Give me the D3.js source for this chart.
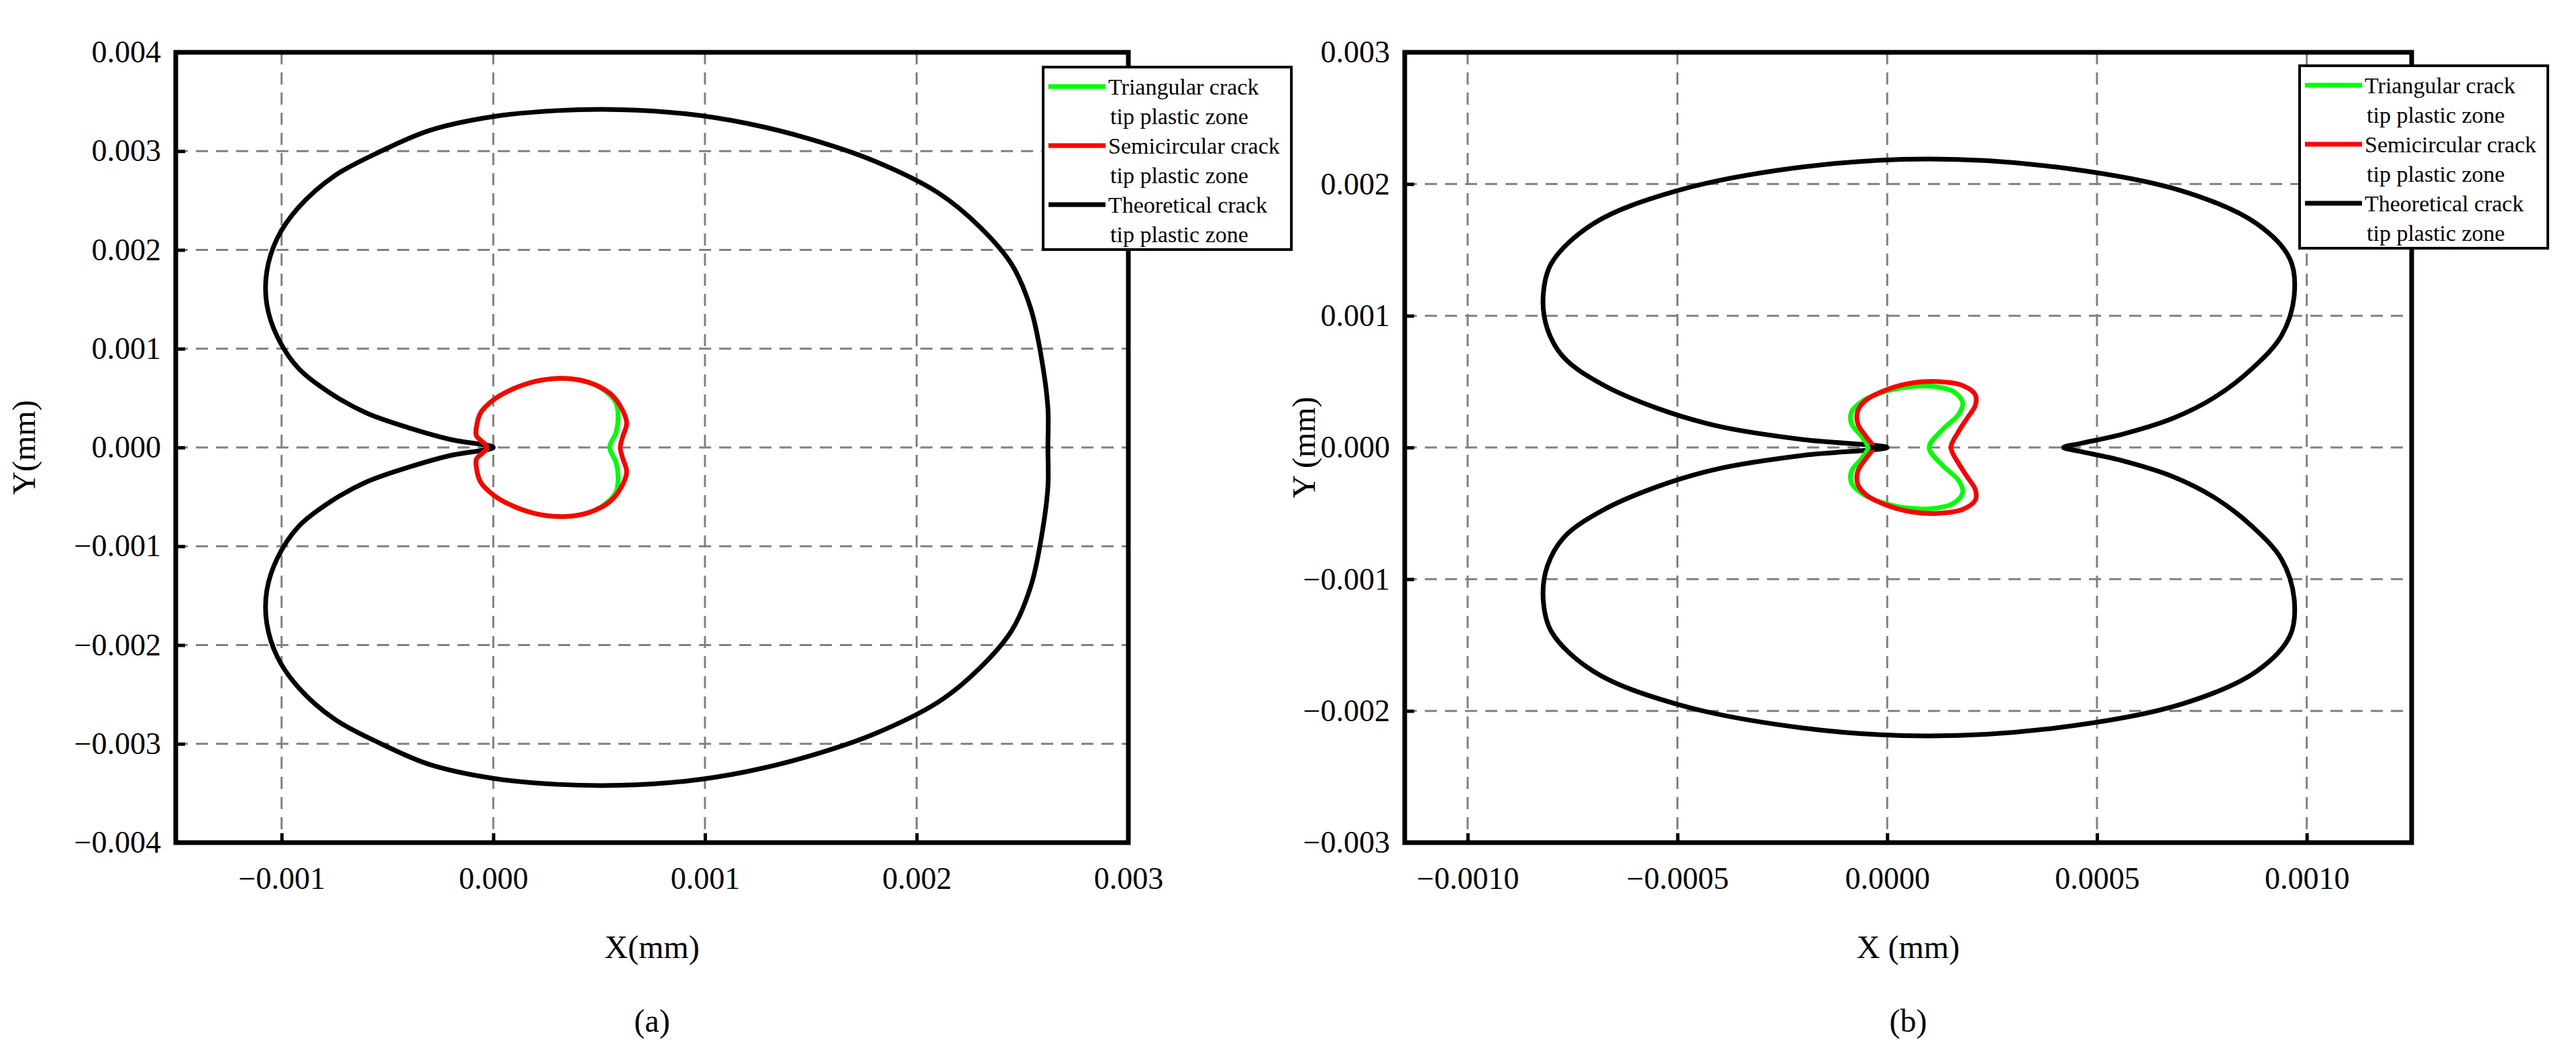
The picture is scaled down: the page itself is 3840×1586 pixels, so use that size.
<!DOCTYPE html>
<html><head><meta charset="utf-8">
<script src="https://cdn.jsdelivr.net/npm/d3@7"></script>
<style>body{margin:0;background:#fff}text{font-family:"Liberation Serif","Times New Roman",serif}</style>
</head><body><svg id="c" width="3840" height="1586"></svg>
<script>
// Upper halves (y >= 0); the zones are symmetric about the crack line
const aTheory = [[0,0],[-0.0002,0.00008],[-0.0004,0.0002],[-0.0006,0.00035],[-0.00077,0.00055],[-0.00092,0.0008],[-0.00102,0.00112],[-0.00107,0.00145],[-0.00107,0.00178],[-0.00102,0.00212],[-0.00092,0.00243],[-0.00075,0.00275],[-0.00053,0.003],[-0.0003,0.00321],[0,0.00335],[0.0003,0.00341],[0.0006,0.00342],[0.0009,0.00338],[0.0012,0.00328],[0.0015,0.00312],[0.0018,0.0029],[0.0021,0.00258],[0.0023,0.00223],[0.00245,0.00185],[0.00254,0.0014],[0.00259,0.0009],[0.00262,0.0004],[0.00262,0]];
const aSemi = [[-0.00003,0],[-0.00008,0.00012],[-0.00008,0.0002],[-0.00006,0.00035],[0,0.00048],[0.00008,0.00058],[0.0002,0.00067],[0.00033,0.0007],[0.00045,0.00066],[0.00055,0.00055],[0.0006,0.00042],[0.00063,0.00025],[0.00061,0.0001],[0.0006,0]];
const aTri = [[-0.00003,0],[-0.00008,0.00012],[-0.00008,0.0002],[-0.00006,0.00035],[0,0.00048],[0.00008,0.00058],[0.0002,0.00067],[0.00033,0.0007],[0.00045,0.00066],[0.00053,0.00057],[0.00058,0.00045],[0.00059,0.0003],[0.00058,0.00015],[0.00055,0]];
const bTheory = [[0,0],[-0.0002,0.00006],[-0.0004,0.00016],[-0.00055,0.0003],[-0.00068,0.00048],[-0.00077,0.00068],[-0.00081,0.0009],[-0.00082,0.00115],[-0.0008,0.0014],[-0.0007,0.0017],[-0.0005,0.00195],[-0.0002,0.00213],[0.0001,0.00219],[0.0004,0.00213],[0.0007,0.00195],[0.00088,0.0017],[0.00096,0.00143],[0.00097,0.00115],[0.00094,0.00085],[0.00087,0.0006],[0.00078,0.00038],[0.00068,0.00022],[0.00056,0.0001],[0.00046,0.00003],[0.00042,0]];
const bSemi = [[-0.000033,0],[-0.00005,0.00008],[-0.00007,0.00018],[-0.00007,0.00028],[-0.00005,0.00036],[0,0.00044],[0.00006,0.00049],[0.00012,0.0005],[0.00018,0.00047],[0.00021,0.0004],[0.00021,0.00032],[0.00019,0.00022],[0.00017,0.00012],[0.000152,0]];
const bTri = [[-0.000046,0],[-0.00006,0.00008],[-0.000085,0.00018],[-0.000085,0.00027],[-0.00006,0.00035],[-0.00001,0.00042],[0.00005,0.00046],[0.00012,0.00046],[0.00016,0.00042],[0.00018,0.00034],[0.00017,0.00025],[0.00013,0.00013],[0.0001,0]];
const aXTicks = [-0.001,0,0.001,0.002,0.003];
const aYTicks = [-0.004,-0.003,-0.002,-0.001,0,0.001,0.002,0.003,0.004];
const bXTicks = [-0.001,-0.0005,0,0.0005,0.001];
const bYTicks = [-0.003,-0.002,-0.001,0,0.001,0.002,0.003];
const legendLabels = [["Triangular crack","tip plastic zone"],["Semicircular crack","tip plastic zone"],["Theoretical crack","tip plastic zone"]];
const colors = ["#00ff00","#ff0000","#000000"];

const svg = d3.select("#c");
function closed(h){
  const low = h.slice().reverse().map(p=>[p[0],-p[1]]);
  return h.concat(low.slice(1,-1));
}
function panel(o){
  const g = svg.append("g");
  const x = d3.scaleLinear().domain(o.xd).range([o.l,o.r]);
  const y = d3.scaleLinear().domain(o.yd).range([o.b,o.t]);
  const dash="18,12";
  g.selectAll(".gx").data(o.xt.filter(v=>x(v)>o.l+5&&x(v)<o.r-5)).join("line")
    .attr("x1",d=>x(d)).attr("x2",d=>x(d)).attr("y1",o.t).attr("y2",o.b)
    .attr("stroke","#808080").attr("stroke-width",3).attr("stroke-dasharray",dash);
  g.selectAll(".gy").data(o.yt.filter(v=>y(v)>o.t+5&&y(v)<o.b-5)).join("line")
    .attr("y1",d=>y(d)).attr("y2",d=>y(d)).attr("x1",o.l).attr("x2",o.r)
    .attr("stroke","#808080").attr("stroke-width",3).attr("stroke-dasharray",dash);
  const line = d3.line().x(d=>x(d[0])).y(d=>y(d[1])).curve(d3.curveCatmullRomClosed.alpha(0.5));
  [[o.theory,2],[o.tri,0],[o.semi,1]].forEach(([d,i])=>{
    g.append("path").attr("d",line(closed(d))).attr("fill","none").attr("stroke",colors[i]).attr("stroke-width",7).attr("stroke-linejoin","round");
  });
  if(o.tip){ g.append("line").attr("x1",x(o.tip[0])).attr("x2",x(o.tip[1])).attr("y1",y(0)).attr("y2",y(0)).attr("stroke","#000").attr("stroke-width",7); }
  const ax = g.append("g").attr("transform",`translate(0,${o.b})`)
    .call(d3.axisBottom(x).tickValues(o.xt).tickSizeInner(-14).tickSizeOuter(0).tickPadding(30).tickFormat(o.xf));
  const ay = g.append("g").attr("transform",`translate(${o.l},0)`)
    .call(d3.axisLeft(y).tickValues(o.yt).tickSizeInner(-14).tickSizeOuter(0).tickPadding(22).tickFormat(d3.format(".3f")));
  [ax,ay].forEach(a=>{a.select(".domain").remove();a.selectAll("line").attr("stroke","#000").attr("stroke-width",5);
    a.selectAll("text").attr("font-size",46).attr("fill","#000").attr("font-family","Liberation Serif");});
  ax.selectAll("text").attr("dy","0.85em");
  g.append("rect").attr("x",o.l).attr("y",o.t).attr("width",o.r-o.l).attr("height",o.b-o.t)
    .attr("fill","none").attr("stroke","#000").attr("stroke-width",7);
  g.append("text").attr("x",(o.l+o.r)/2).attr("y",1428).attr("text-anchor","middle").attr("font-size",48).text(o.xl);
  g.append("text").attr("transform",`translate(${o.yx},${(o.t+o.b)/2}) rotate(-90)`).attr("text-anchor","middle").attr("font-size",48).text(o.yl);
  g.append("text").attr("x",(o.l+o.r)/2).attr("y",1538).attr("text-anchor","middle").attr("font-size",48).text(o.cap);
  const L = g.append("g").attr("transform",`translate(${o.lg[0]},${o.lg[1]})`);
  L.append("rect").attr("width",370).attr("height",272).attr("fill","#fff").attr("stroke","#000").attr("stroke-width",4);
  legendLabels.forEach((lab,i)=>{
    const yy = 29+i*88;
    L.append("line").attr("x1",8).attr("x2",93).attr("y1",yy).attr("y2",yy).attr("stroke",colors[i]).attr("stroke-width",7);
    L.append("text").attr("x",97).attr("y",yy+12).attr("font-size",34).text(lab[0]);
    L.append("text").attr("x",100).attr("y",yy+56).attr("font-size",34).text(lab[1]);
  });
}
panel({l:262,r:1682,t:78,b:1256,xd:[-0.0015,0.003],yd:[-0.004,0.004],xt:aXTicks,yt:aYTicks,xf:d3.format(".3f"),
  theory:aTheory,semi:aSemi,tri:aTri,xl:"X(mm)",yl:"Y(mm)",yx:52,cap:"(a)",lg:[1555,100]});
panel({l:2094,r:3595,t:78,b:1256,xd:[-0.00115,0.00125],yd:[-0.003,0.003],xt:bXTicks,yt:bYTicks,xf:d3.format(".4f"),
  theory:bTheory,semi:bSemi,tri:bTri,tip:[-0.00004,0.0000],xl:"X (mm)",yl:"Y (mm)",yx:1960,cap:"(b)",lg:[3428,98]});
</script></body></html>
